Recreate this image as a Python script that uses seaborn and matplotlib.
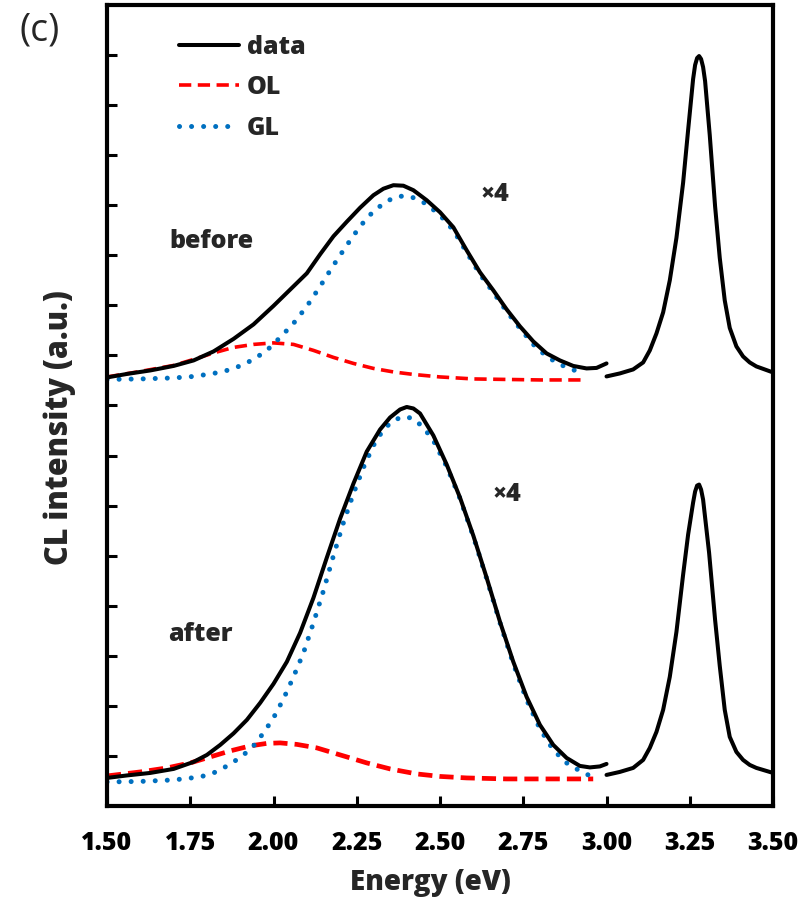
import matplotlib
matplotlib.use("Agg")
import matplotlib.pyplot as plt
import seaborn as sns
from matplotlib.lines import Line2D

# ---- data (intensity in arbitrary units, offset stack) ----
# "before" spectrum, visible band (x4)
before_data_e = [1.50, 1.56, 1.63, 1.70, 1.76, 1.82, 1.88, 1.94, 2.00, 2.06, 2.10, 2.14,
                 2.18, 2.22, 2.26, 2.30, 2.33, 2.36, 2.39, 2.42, 2.46, 2.50, 2.54, 2.58, 2.62,
                 2.66, 2.70, 2.74, 2.78, 2.82, 2.86, 2.90, 2.94, 2.97, 3.00]
before_data_i = [8.56, 8.63, 8.70, 8.79, 8.90, 9.08, 9.33, 9.62, 9.99, 10.38, 10.64, 11.02,
                 11.38, 11.67, 11.95, 12.20, 12.33, 12.40, 12.39, 12.30, 12.10, 11.86, 11.56, 11.10, 10.66,
                 10.30, 9.92, 9.58, 9.28, 9.04, 8.90, 8.79, 8.74, 8.75, 8.84]
before_gl_e = [1.50, 1.60, 1.70, 1.76, 1.82, 1.86, 1.90, 1.94, 1.98, 2.02, 2.06, 2.10, 2.14,
               2.18, 2.22, 2.26, 2.30, 2.34, 2.37, 2.40, 2.43, 2.46, 2.50, 2.54, 2.58, 2.62, 2.66,
               2.70, 2.74, 2.78, 2.82, 2.86, 2.90, 2.93]
before_gl_i = [8.52, 8.53, 8.55, 8.58, 8.64, 8.70, 8.79, 8.92, 9.10, 9.36, 9.64, 9.98, 10.38,
               10.80, 11.20, 11.58, 11.88, 12.08, 12.17, 12.19, 12.13, 12.02, 11.80, 11.50, 11.06, 10.62, 10.26,
               9.88, 9.54, 9.22, 8.98, 8.82, 8.71, 8.66]
before_ol_e = [1.50, 1.60, 1.70, 1.76, 1.82, 1.88, 1.94, 2.00, 2.06, 2.12, 2.18, 2.24, 2.30,
               2.36, 2.42, 2.50, 2.60, 2.70, 2.80, 2.93]
before_ol_i = [8.57, 8.68, 8.80, 8.92, 9.05, 9.16, 9.22, 9.25, 9.22, 9.10, 8.96, 8.84, 8.74,
               8.67, 8.62, 8.57, 8.53, 8.52, 8.51, 8.51]
# "before" spectrum, band-edge peak
before_uv_e = [3.00, 3.04, 3.08, 3.11, 3.13, 3.15, 3.17, 3.19, 3.21, 3.23, 3.245, 3.26, 3.266, 3.272,
               3.278, 3.284, 3.29, 3.296, 3.31, 3.326, 3.34, 3.355, 3.37, 3.39, 3.41, 3.43, 3.45, 3.50]
before_uv_i = [8.58, 8.64, 8.72, 8.86, 9.10, 9.44, 9.86, 10.50, 11.35, 12.45, 13.50, 14.52, 14.80, 14.94,
               14.98, 14.92, 14.76, 14.48, 13.40, 11.98, 10.95, 10.10, 9.55, 9.18, 8.98, 8.86, 8.78, 8.66]

# "after" spectrum, visible band (x4)
after_data_e = [1.50, 1.56, 1.63, 1.70, 1.76, 1.80, 1.84, 1.88, 1.92, 1.96, 2.00, 2.04, 2.08,
                2.12, 2.16, 2.20, 2.24, 2.28, 2.32, 2.35, 2.38, 2.40, 2.42, 2.44, 2.48, 2.52, 2.56,
                2.60, 2.64, 2.68, 2.72, 2.76, 2.80, 2.84, 2.88, 2.92, 2.95, 2.98, 3.00]
after_data_i = [0.56, 0.61, 0.66, 0.74, 0.88, 1.02, 1.22, 1.45, 1.72, 2.06, 2.44, 2.88, 3.46,
                4.16, 4.96, 5.74, 6.44, 7.08, 7.52, 7.76, 7.92, 7.97, 7.94, 7.84, 7.40, 6.82, 6.16,
                5.40, 4.56, 3.68, 2.88, 2.18, 1.62, 1.22, 0.96, 0.80, 0.77, 0.79, 0.84]
after_gl_e = [1.50, 1.60, 1.70, 1.78, 1.82, 1.85, 1.88, 1.91, 1.94, 1.97, 2.00, 2.03, 2.06,
              2.09, 2.12, 2.15, 2.18, 2.21, 2.24, 2.27, 2.30, 2.33, 2.36, 2.39, 2.42, 2.45,
              2.48, 2.52, 2.56, 2.60, 2.64, 2.68, 2.72, 2.76, 2.80, 2.84, 2.88, 2.92, 2.945]
after_gl_i = [0.48, 0.49, 0.52, 0.58, 0.66, 0.76, 0.88, 1.02, 1.20, 1.46, 1.76, 2.14, 2.58,
              3.06, 3.66, 4.30, 5.00, 5.66, 6.24, 6.76, 7.20, 7.52, 7.70, 7.78, 7.74, 7.56,
              7.30, 6.78, 6.14, 5.38, 4.54, 3.66, 2.84, 2.12, 1.54, 1.12, 0.86, 0.70, 0.62]
after_ol_e = [1.50, 1.60, 1.68, 1.75, 1.81, 1.87, 1.93, 1.98, 2.02, 2.07, 2.13, 2.20, 2.28,
              2.35, 2.43, 2.50, 2.58, 2.70, 2.80, 2.96]
after_ol_i = [0.60, 0.68, 0.76, 0.86, 0.98, 1.10, 1.20, 1.25, 1.26, 1.23, 1.16, 1.02, 0.86,
              0.74, 0.64, 0.59, 0.56, 0.54, 0.54, 0.54]
# "after" spectrum, band-edge peak
after_uv_e = [3.00, 3.04, 3.08, 3.11, 3.13, 3.15, 3.17, 3.19, 3.21, 3.23, 3.245, 3.26, 3.266,
              3.272, 3.278, 3.284, 3.29, 3.308, 3.326, 3.34, 3.355, 3.37, 3.39, 3.41, 3.43, 3.45, 3.50]
after_uv_i = [0.62, 0.68, 0.76, 0.92, 1.16, 1.48, 1.92, 2.58, 3.48, 4.62, 5.42, 6.06, 6.28,
              6.40, 6.42, 6.32, 6.12, 5.06, 3.72, 2.80, 1.92, 1.38, 1.08, 0.92, 0.82, 0.76, 0.66]

x_ticks = [1.50, 1.75, 2.00, 2.25, 2.50, 2.75, 3.00, 3.25, 3.50]

BLACK = "black"
RED = "#FF0000"
BLUE = "#0070C0"
WEIGHT = 800

sns.set_theme(style="white")
plt.rcParams["font.family"] = ["Open Sans", "DejaVu Sans"]

fig = plt.figure(figsize=(8.12, 9.23), dpi=100)
ax = fig.add_axes([0.1318, 0.1268, 0.8202, 0.8678])

dash = (0, (3.4, 1.8))
dots = (0, (0.01, 2.4))

# before
sns.lineplot(x=before_ol_e, y=before_ol_i, ax=ax, color=RED, lw=2.6, linestyle=dash, sort=False, estimator=None)
sns.lineplot(x=before_gl_e, y=before_gl_i, ax=ax, color=BLUE, lw=3.6, linestyle=dots,
             dash_capstyle="round", sort=False, estimator=None)
sns.lineplot(x=before_data_e, y=before_data_i, ax=ax, color=BLACK, lw=2.9, sort=False, estimator=None)
sns.lineplot(x=before_uv_e, y=before_uv_i, ax=ax, color=BLACK, lw=2.9, sort=False, estimator=None)

# after
sns.lineplot(x=after_ol_e, y=after_ol_i, ax=ax, color=RED, lw=3.4, linestyle=(0, (3.0, 1.5)), sort=False, estimator=None)
sns.lineplot(x=after_gl_e, y=after_gl_i, ax=ax, color=BLUE, lw=3.6, linestyle=dots,
             dash_capstyle="round", sort=False, estimator=None)
sns.lineplot(x=after_data_e, y=after_data_i, ax=ax, color=BLACK, lw=2.9, sort=False, estimator=None)
sns.lineplot(x=after_uv_e, y=after_uv_i, ax=ax, color=BLACK, lw=2.9, sort=False, estimator=None)

ax.set_xlim(1.5, 3.5)
ax.set_ylim(0, 16)
ax.set_xticks(x_ticks)
ax.set_xticklabels([f"{t:.2f}" for t in x_ticks])
ax.set_yticks(range(1, 16))
ax.set_yticklabels([])
ax.tick_params(axis="both", direction="in", length=7, width=2.2, colors="black",
               left=True, bottom=True)
ax.tick_params(axis="x", labelsize=18, pad=18)
for lab in ax.get_xticklabels():
    lab.set_fontweight(WEIGHT)
for s in ax.spines.values():
    s.set_linewidth(3)
    s.set_color("black")
    s.set_visible(True)

ax.set_xlabel("Energy (eV)", fontsize=20, fontweight=WEIGHT)
ax.xaxis.set_label_coords(0.485, -0.078)
ax.set_ylabel("CL intensity (a.u.)", fontsize=22, fontweight=WEIGHT)
ax.yaxis.set_label_coords(-0.046, 0.473)

# legend
handles = [
    Line2D([], [], color=BLACK, lw=2.9),
    Line2D([], [], color=RED, lw=2.6, linestyle=dash),
    Line2D([], [], color=BLUE, lw=3.6, linestyle=dots, dash_capstyle="round"),
]
ax.legend(handles, ["data", "OL", "GL"], loc="upper left", bbox_to_anchor=(0.075, 0.991),
          frameon=False, handlelength=2.4, handletextpad=0.3, labelspacing=0.62,
          prop={"weight": WEIGHT, "size": 18})

ax.text(1.815, 11.28, "before", fontsize=18, fontweight=WEIGHT, ha="center", va="center")
ax.text(1.78, 3.42, "after", fontsize=18, fontweight=WEIGHT, ha="center", va="center")
ax.text(2.665, 12.22, "×4", fontsize=18, fontweight=WEIGHT, ha="center", va="center")
ax.text(2.70, 6.22, "×4", fontsize=18, fontweight=WEIGHT, ha="center", va="center")

fig.text(40 / 812, 1 - 30 / 923, "(c)", fontsize=27, ha="center", va="center")

fig.savefig("out.png", dpi=100)
